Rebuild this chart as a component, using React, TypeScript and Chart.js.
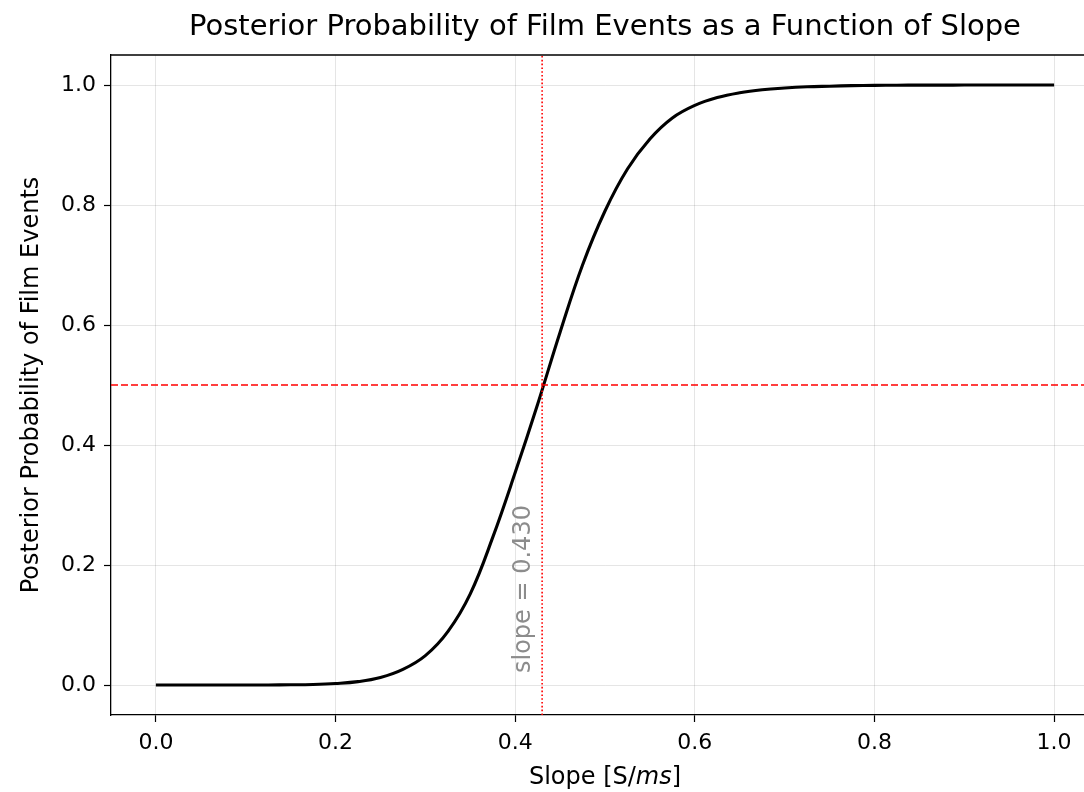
import { useEffect, useRef } from "react";
import { Chart, registerables } from "chart.js";

Chart.register(...registerables);

const slopeValues = [
  0, 0.025, 0.05, 0.075, 0.1, 0.125, 0.15, 0.175, 0.2, 0.225, 0.25, 0.275, 0.3, 0.325, 0.35,
  0.375, 0.4, 0.425, 0.45, 0.475, 0.5, 0.525, 0.55, 0.575, 0.6, 0.625, 0.65, 0.675, 0.7,
  0.725, 0.75, 0.775, 0.8, 0.825, 0.85, 0.875, 0.9, 0.925, 0.95, 0.975, 1.0,
];
const probabilityValues = [
  0, 0, 0, 0, 0, 0.0001, 0.0003, 0.0009, 0.0025, 0.0056, 0.0125, 0.026, 0.049, 0.089, 0.152,
  0.246, 0.354, 0.468, 0.588, 0.7, 0.79, 0.86, 0.91, 0.945, 0.966, 0.979, 0.987, 0.992, 0.995,
  0.997, 0.998, 0.9989, 0.9993, 0.9996, 0.9998, 0.9998, 0.9999, 0.9999, 1.0, 1.0, 1.0,
];
const xTickValues = [0, 0.2, 0.4, 0.6, 0.8, 1.0];
const yTickValues = [0, 0.2, 0.4, 0.6, 0.8, 1.0];
const xRange = [-0.05, 1.05];
const yRange = [-0.05, 1.05];
const thresholdSlope = 0.43;
const thresholdProbability = 0.5;
const annotationPosition = [0.41, 0.02];

const titleText = "Posterior Probability of Film Events as a Function of Slope";
const yLabelText = "Posterior Probability of Film Events";
const xLabelParts = ["Slope [S/", "ms", "]"];
const annotationText = "slope = 0.430";

const FONT = '"DejaVu Sans", sans-serif';

const textPlugin = {
  id: "textPlugin",
  afterDraw(chart: any) {
    const { ctx, chartArea, scales } = chart;
    const { left, right, top, bottom } = chartArea;
    ctx.save();
    ctx.strokeStyle = "#000";
    ctx.lineWidth = 1.3;
    ctx.beginPath();
    ctx.moveTo(left, top);
    ctx.lineTo(right, top);
    ctx.lineTo(right, bottom);
    ctx.stroke();

    ctx.fillStyle = "#000";
    ctx.font = `29px ${FONT}`;
    ctx.textAlign = "center";
    ctx.textBaseline = "middle";
    ctx.fillText(titleText, 605, 27);

    const normal = `24px ${FONT}`;
    const italic = `italic 24px ${FONT}`;
    ctx.font = normal;
    const w0 = ctx.measureText(xLabelParts[0]).width;
    const w2 = ctx.measureText(xLabelParts[2]).width;
    ctx.font = italic;
    const w1 = ctx.measureText(xLabelParts[1]).width;
    const total = w0 + w1 + w2;
    let x = 605 - total / 2;
    ctx.textAlign = "left";
    ctx.font = normal;
    ctx.fillText(xLabelParts[0], x, 778);
    x += w0;
    ctx.font = italic;
    ctx.fillText(xLabelParts[1], x, 778);
    x += w1;
    ctx.font = normal;
    ctx.fillText(xLabelParts[2], x, 778);

    ctx.save();
    ctx.translate(32, (top + bottom) / 2);
    ctx.rotate(-Math.PI / 2);
    ctx.textAlign = "center";
    ctx.font = normal;
    ctx.fillText(yLabelText, 0, 0);
    ctx.restore();

    const ax = scales.x.getPixelForValue(annotationPosition[0]);
    const ay = scales.y.getPixelForValue(annotationPosition[1]);
    ctx.save();
    ctx.translate(ax, ay);
    ctx.rotate(-Math.PI / 2);
    ctx.textAlign = "left";
    ctx.textBaseline = "middle";
    ctx.fillStyle = "#8c8c8c";
    ctx.font = normal;
    ctx.fillText(annotationText, 0, 0);
    ctx.restore();

    ctx.restore();
  },
};

export default function App() {
  const ref = useRef<HTMLCanvasElement | null>(null);

  useEffect(() => {
    document.body.style.overflow = "hidden";
    if (!ref.current) return;
    const curve = slopeValues.map((s, i) => ({ x: s, y: probabilityValues[i] }));
    const chart = new Chart(ref.current, {
      type: "line",
      data: {
        datasets: [
          {
            data: [
              { x: xRange[0], y: thresholdProbability },
              { x: xRange[1], y: thresholdProbability },
            ],
            borderColor: "#ff0000",
            borderWidth: 1.6,
            borderDash: [7, 3],
            pointRadius: 0,
            order: 0,
          },
          {
            data: [
              { x: thresholdSlope, y: yRange[0] },
              { x: thresholdSlope, y: yRange[1] },
            ],
            borderColor: "#ff0000",
            borderWidth: 1.6,
            borderDash: [1.6, 2.2],
            pointRadius: 0,
            order: 0,
          },
          {
            data: curve,
            borderColor: "#000000",
            borderWidth: 3.1,
            pointRadius: 0,
            tension: 0.4,
            order: 1,
          },
        ],
      },
      options: {
        animation: false,
        responsive: false,
        devicePixelRatio: 1,
        layout: { padding: { top: 55, left: 0, right: 16, bottom: 0 } },
        plugins: { legend: { display: false }, tooltip: { enabled: false }, title: { display: false } },
        scales: {
          x: {
            type: "linear",
            min: xRange[0],
            max: xRange[1],
            afterBuildTicks: (s: any) => {
              s.ticks = xTickValues.map((v) => ({ value: v }));
            },
            afterFit: (s: any) => {
              s.height = 77;
            },
            ticks: {
              callback: (v: any) => Number(v).toFixed(1),
              font: { family: FONT, size: 22 },
              color: "#000",
              padding: 8,
              maxRotation: 0,
              autoSkip: false,
            },
            grid: { color: "rgba(0,0,0,0.1)", lineWidth: 1, tickColor: "#000", tickLength: 7, tickWidth: 1.2 },
            border: { color: "#000", width: 1.3 },
          },
          y: {
            type: "linear",
            min: yRange[0],
            max: yRange[1],
            afterBuildTicks: (s: any) => {
              s.ticks = yTickValues.map((v) => ({ value: v }));
            },
            afterFit: (s: any) => {
              s.width = 111;
            },
            ticks: {
              callback: (v: any) => Number(v).toFixed(1),
              font: { family: FONT, size: 22 },
              color: "#000",
              padding: 8,
              autoSkip: false,
            },
            grid: { color: "rgba(0,0,0,0.1)", lineWidth: 1, tickColor: "#000", tickLength: 7, tickWidth: 1.2 },
            border: { color: "#000", width: 1.3 },
          },
        },
      },
      plugins: [textPlugin],
    });
    return () => chart.destroy();
  }, []);

  return (
    <div style={{ position: "fixed", left: 0, top: 0, width: 1084, height: 792, overflow: "hidden", background: "#fff" }}>
      <canvas ref={ref} width={1115} height={792} style={{ width: 1115, height: 792, display: "block" }} />
    </div>
  );
}
